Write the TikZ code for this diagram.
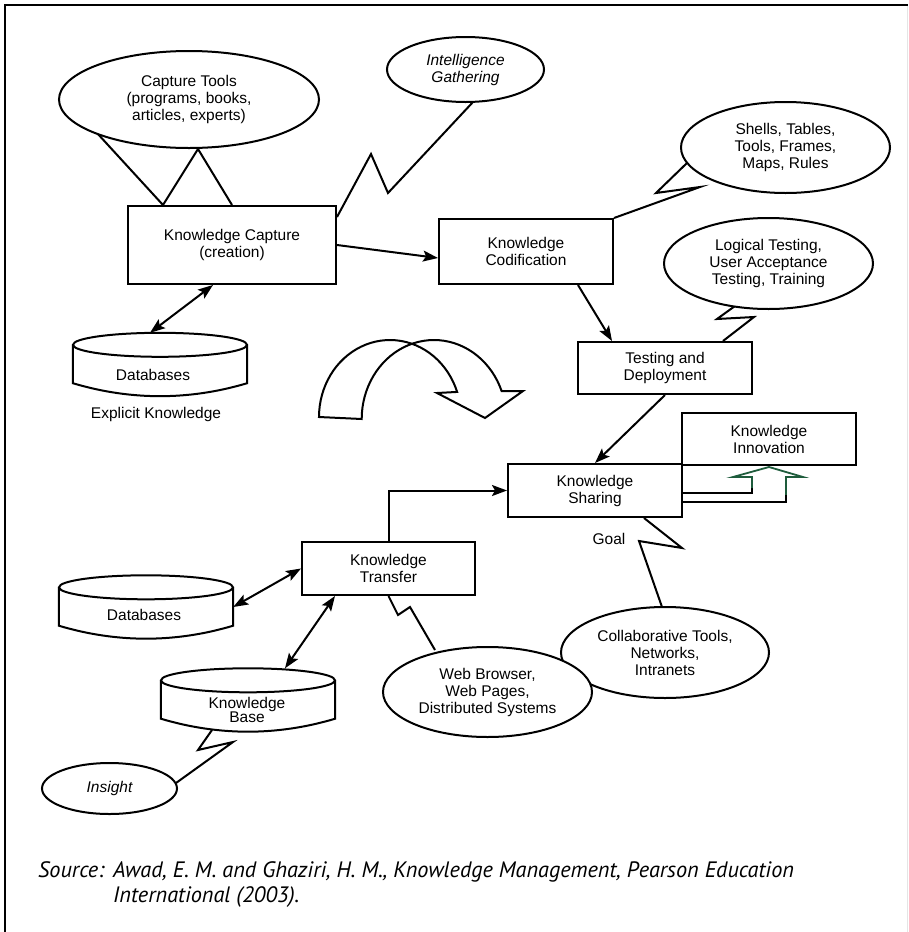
\documentclass[tikz,border=0pt]{standalone}
\usepackage{fontspec}
\setmainfont{Liberation Sans}
\newfontfamily\srcfont{PT Sans}
\usetikzlibrary{shapes.geometric,arrows.meta,calc}

% database cylinder drawn over a named rectangular node
\newcommand\dbcyl[1]{%
  \draw[line width=2pt] ([yshift=-12pt]#1.north west) -- ([yshift=13pt]#1.south west)
    .. controls ([xshift=58pt,yshift=-4.3pt]#1.south west) and ([xshift=-58pt,yshift=-4.3pt]#1.south east) ..
    ([yshift=13pt]#1.south east) -- ([yshift=-12pt]#1.north east);
  \draw[line width=2pt] ([yshift=-12pt]#1.north) ellipse [x radius=87pt, y radius=12pt];
}

\begin{document}
\begin{tikzpicture}[x=1pt,y=-1pt,
  line join=miter,
  lbl/.style={font=\fontsize{15.5}{17}\selectfont, align=center, inner sep=0pt},
  box/.style={lbl, draw, rectangle, line width=2pt},
  oval/.style={lbl, draw, ellipse, line width=2pt, fill=white},
  cylbox/.style={rectangle, inner sep=0pt, minimum width=174pt, minimum height=63pt},
  arr/.style={-{Stealth[length=15pt,width=11pt,inset=3pt]}, line width=2pt},
  dbl/.style={{Stealth[length=15pt,width=11pt,inset=3pt]}-{Stealth[length=15pt,width=11pt,inset=3pt]}, line width=2pt},
  callout/.style={line width=2pt},
  src/.style={font=\srcfont\itshape\fontsize{22.3}{25}\selectfont, inner sep=0pt, anchor=base west},
]
\useasboundingbox (0,0) rectangle (908,932);

% frame
\draw[line width=2.6pt] (5,932) -- (5,5) -- (908,5);
\draw[line width=1pt, black!10] (907,6) -- (907,932);

% process boxes
\node[box, minimum width=208pt, minimum height=78pt] (kcap) at (232,245) {Knowledge Capture\\(creation)};
\node[box, minimum width=174pt, minimum height=65pt] (kcod) at (526,251.5) {Knowledge\\Codification};
\node[box, minimum width=174pt, minimum height=52pt] (td) at (665,368) {Testing and\\Deployment};
\node[box, minimum width=174pt, minimum height=53pt] (ks) at (595,490.5) {Knowledge\\Sharing};
\node[box, minimum width=174pt, minimum height=52pt] (ki) at (769,439) {Knowledge\\Innovation};
\node[box, minimum width=173pt, minimum height=53pt] (kt) at (388.5,568.5) {Knowledge\\Transfer};

% databases
\node[cylbox] (db1) at (160,364.5) {};
\node[cylbox] (db2) at (146,607) {};
\node[cylbox] (kb) at (248,700) {};
\dbcyl{db1}
\dbcyl{db2}
\dbcyl{kb}
\node[lbl] (db1t) at (153,375) {Databases};
\node[lbl] (db2t) at (144,615) {Databases};
\node[lbl, font=\fontsize{15.5}{14}\selectfont] (kbt) at (247,710) {Knowledge\\Base};
\node[lbl] (expl) at (156,414) {Explicit Knowledge};

% callout zigzags
\draw[callout] (97,133) -- ([xshift=-69pt]kcap.north) -- (198,149) -- (kcap.north);
\draw[callout] ([yshift=-12pt]kcap.north east) -- (371,154) -- (388,193) -- (473,102);
\draw[callout] (kcod.north east) -- (700,187) -- (656,193) -- (687,163);
\draw[callout] ([xshift=58pt]td.north) -- (754,317) -- (717,319) -- (735,306);
\draw[callout] ([xshift=49pt]ks.south) -- (682,548) -- (639,541) -- (662,607);
\draw[callout] (kt.south) -- (398,615) -- (410,607) -- (435,650);
\draw[callout] (212,730) -- (198,750) -- (233,742) -- (176,783);

% ovals
\node[oval, minimum width=260pt, minimum height=97pt] (ct) at (189,99.5) {Capture Tools\\(programs, books,\\articles, experts)};
\node[oval, font=\fontsize{15.5}{17}\selectfont\itshape, minimum width=157pt, minimum height=65pt] (ig) at (465.5,69.5) {Intelligence\\Gathering};
\node[oval, minimum width=209pt, minimum height=91pt] (sh) at (785.5,147.5) {Shells, Tables,\\Tools, Frames,\\Maps, Rules};
\node[oval, minimum width=209pt, minimum height=91pt] (lt) at (768.5,263.5) {Logical Testing,\\User Acceptance\\Testing, Training};
\node[oval, minimum width=208pt, minimum height=91pt] (ctn) at (665,652.5) {Collaborative Tools,\\Networks,\\Intranets};
\node[oval, minimum width=209pt, minimum height=90pt] (wb) at (487.5,692) {Web Browser,\\Web Pages,\\Distributed Systems};
\node[oval, font=\fontsize{15.5}{17}\selectfont\itshape, minimum width=135pt, minimum height=51pt] (ins) at (109.5,788.5) {Insight};

% flow arrows
\draw[arr] (kcap.east) -- ([yshift=-6.5pt]kcod.west);
\draw[dbl] ([xshift=-10pt]db1.north) -- ([xshift=-19pt]kcap.south);
\draw[arr] ([xshift=52pt]kcod.south) -- ([xshift=-53pt]td.north);
\draw[arr] (td.south) -- (ks.north);
\draw[arr] (kt.north) |- (ks.west);
\draw[dbl] (db2.east) -- (kt.west);
\draw[dbl] ([xshift=37pt]kb.north) -- ([xshift=-53.5pt]kt.south);

% curved turn arrow
\draw[line width=2pt, samples=40]
  (319,417) -- plot[domain=180:19] ({390+71*cos(\x)},{417-77*sin(\x)})
  -- (437,393) -- (485,418) -- (523,391) -- (502,391)
  -- plot[domain=20.7:180] ({434+72.3*cos(\x)},{419-79*sin(\x)}) -- cycle;

% hollow up-arrow from sharing to innovation
\definecolor{arrowgreen}{RGB}{30,92,60}
\draw[line width=2pt] ([yshift=-2.5pt]ks.east) -- (752,493) -- (752,487);
\draw[line width=1.8pt, arrowgreen] (752,488) -- (752,477) -- (733,477) -- (769,467) -- (803,477) -- (786,477) -- (786,496);
\draw[line width=2pt] (786,495) -- (786,502) -- ([yshift=-11.5pt]ks.east);

\node[lbl] (goal) at (609,539) {Goal};

% source note
\node[src] (srcA) at (38,877) {Source:};
\node[src] (srcB) at (113,877) {Awad, E. M. and Ghaziri, H. M., Knowledge Management, Pearson Education};
\node[src] (srcC) at (113,902) {International (2003).};
\end{tikzpicture}
\end{document}
